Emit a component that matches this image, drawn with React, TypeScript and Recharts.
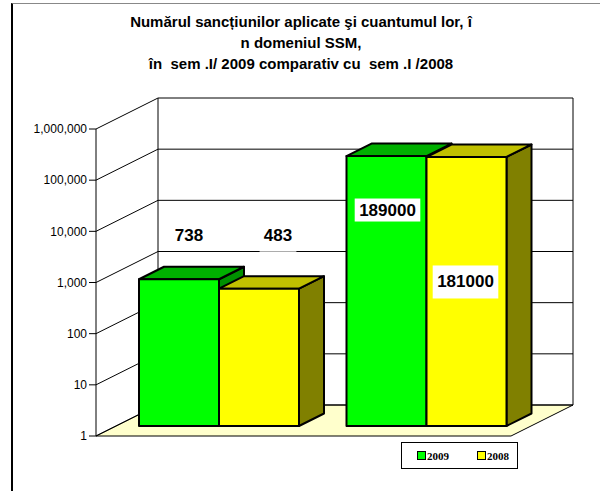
import React from 'react';
import { BarChart, Bar, XAxis, YAxis, CartesianGrid, ReferenceArea, LabelList } from 'recharts';

// Date
const categories = ['Număr sancțiuni', 'Cuantum'];
const values2009 = [738, 189000];
const values2008 = [483, 181000];
const yTicks = [1, 10, 100, 1000, 10000, 100000, 1000000];
const seriesNames = ['2009', '2008'];

const titleLines = [
  'Numărul sancțiunilor aplicate şi cuantumul lor, î',
  'n domeniul SSM,',
  'în  sem .I/ 2009 comparativ cu  sem .I /2008',
];

const data = categories.map((name, i) => ({ name, v2009: values2009[i], v2008: values2008[i] }));

// perspectiva 3D
const WALL = { dx: 62, dy: -31 };
const SHIFT = { dx: 19, dy: -10 };
const DEPTH = { dx: 25, dy: -12.5 };

const colors = {
  v2009: { front: '#00FF00', top: '#00B000', side: '#009000' },
  v2008: { front: '#FFFF00', top: '#C0C000', side: '#808000' },
};

// pozitia etichetelor fata de fata barei (centru, sus)
const labelPos: Record<string, { dx: number; dy: number; h: number }[]> = {
  v2009: [{ dx: 10, dy: -44, h: 22 }, { dx: 1, dy: 54, h: 23 }],
  v2008: [{ dx: 19, dy: -53, h: 32 }, { dx: -1, dy: 125, h: 33 }],
};

const Box3D = (props: any) => {
  const { x, y, width, height, c } = props;
  if (x == null || y == null) return null;
  const fx = x + SHIFT.dx;
  const fy = y + SHIFT.dy;
  const w = width;
  const h = height;
  return (
    <g stroke="#000" strokeWidth={2} strokeLinejoin="round">
      <polygon
        points={`${fx + w},${fy} ${fx + w + DEPTH.dx},${fy + DEPTH.dy} ${fx + w + DEPTH.dx},${fy + h + DEPTH.dy} ${fx + w},${fy + h}`}
        fill={c.side}
      />
      <polygon
        points={`${fx},${fy} ${fx + DEPTH.dx},${fy + DEPTH.dy} ${fx + w + DEPTH.dx},${fy + DEPTH.dy} ${fx + w},${fy}`}
        fill={c.top}
      />
      <rect x={fx} y={fy} width={w} height={h} fill={c.front} />
    </g>
  );
};

const makeLabel = (key: string) => (props: any) => {
  const vb = props.viewBox || {};
  const x = props.x ?? vb.x;
  const y = props.y ?? vb.y;
  const width = props.width ?? vb.width;
  const pos = labelPos[key][props.index];
  if (x == null || !pos) return null;
  const cx = x + SHIFT.dx + width / 2 + pos.dx;
  const cy = y + SHIFT.dy + pos.dy;
  const text = String(props.value);
  const tw = text.length * 9.6 + 8;
  return (
    <g>
      <rect x={cx - tw / 2} y={cy - pos.h / 2} width={tw} height={pos.h} fill="#fff" />
      <text
        x={cx}
        y={cy}
        textAnchor="middle"
        dominantBaseline="central"
        fontFamily="'Liberation Sans', Arial, sans-serif"
        fontWeight="bold"
        fontSize={17}
        fill="#000"
      >
        {text}
      </text>
    </g>
  );
};

// pereti si podea
const Walls = (props: any) => {
  const { x, y, width, height } = props;
  if (x == null) return null;
  const b = y + height;
  const r = x + width;
  return (
    <g>
      <polygon
        points={`${x},${b} ${x + WALL.dx},${b + WALL.dy} ${r + WALL.dx},${b + WALL.dy} ${r},${b}`}
        fill="#FFFFCC"
        stroke="#000"
        strokeWidth={1}
      />
      <line x1={x + WALL.dx} y1={y + WALL.dy} x2={x + WALL.dx} y2={b + WALL.dy} stroke="#000" strokeWidth={1} />
      <line x1={r + WALL.dx} y1={y + WALL.dy} x2={r + WALL.dx} y2={b + WALL.dy} stroke="#000" strokeWidth={1} />
    </g>
  );
};

const GridLine = (props: any) => {
  const { x1, y1, x2 } = props;
  return (
    <g key={props.key ?? `g-${y1}`}>
      <line x1={x1} y1={y1} x2={x1 + WALL.dx} y2={y1 + WALL.dy} stroke="#000" strokeWidth={1} />
      <line x1={x1 + WALL.dx} y1={y1 + WALL.dy} x2={x2 + WALL.dx} y2={y1 + WALL.dy} stroke="#000" strokeWidth={1} />
    </g>
  );
};

const App = () => {
  return (
    <div style={{ position: 'absolute', left: 0, top: 0, width: 600, height: 491, background: '#fff' }}>
      {/* rama */}
      <div
        style={{
          position: 'absolute',
          left: 11,
          top: 3,
          width: 589,
          height: 488,
          borderTop: '1px solid #888',
          borderLeft: '2px solid #000',
          boxSizing: 'border-box',
        }}
      />
      {/* titlu */}
      <div
        style={{
          position: 'absolute',
          left: 0,
          top: 11,
          width: 602,
          textAlign: 'center',
          fontFamily: "'Liberation Sans', Arial, sans-serif",
          fontWeight: 'bold',
          fontSize: 15,
          lineHeight: '21px',
          color: '#000',
        }}
      >
        {titleLines.map((t) => (
          <div key={t} style={{ whiteSpace: 'pre' }}>{t}</div>
        ))}
      </div>

      <div style={{ position: 'absolute', left: 0, top: 0 }}>
        <BarChart
          width={600}
          height={491}
          data={data}
          margin={{ top: 129, right: 89, bottom: 55, left: 8 }}
          barGap={0}
          barSize={80}
        >
          <ReferenceArea y1={1} y2={1000000} shape={<Walls />} ifOverflow="visible" zIndex={-200} />
          <CartesianGrid vertical={false} horizontal={(p: any) => <GridLine {...p} />} />
          <XAxis dataKey="name" hide />
          <YAxis
            scale="log"
            domain={[1, 1000000]}
            ticks={yTicks}
            width={88}
            axisLine={{ stroke: '#000', strokeWidth: 1 }}
            tickLine={{ stroke: '#000', strokeWidth: 1 }}
            tickSize={7}
            tickMargin={2}
            tick={{ fill: '#000', fontSize: 12, fontFamily: "'Liberation Sans', Arial, sans-serif" }}
            tickFormatter={(v: number) => v.toLocaleString('en-US')}
            interval={0}
            allowDataOverflow
          />
          <Bar
            dataKey="v2009"
            name={seriesNames[0]}
            isAnimationActive={false}
            shape={(p: any) => <Box3D {...p} c={colors.v2009} />}
          >
            <LabelList dataKey="v2009" content={makeLabel('v2009')} />
          </Bar>
          <Bar
            dataKey="v2008"
            name={seriesNames[1]}
            isAnimationActive={false}
            shape={(p: any) => <Box3D {...p} c={colors.v2008} />}
          >
            <LabelList dataKey="v2008" content={makeLabel('v2008')} />
          </Bar>
        </BarChart>
      </div>

      {/* legenda */}
      <div
        style={{
          position: 'absolute',
          left: 401,
          top: 442,
          width: 117,
          height: 27,
          border: '1px solid #000',
          boxSizing: 'border-box',
          background: '#fff',
          display: 'flex',
          alignItems: 'center',
          fontFamily: "'Liberation Serif', 'Times New Roman', serif",
          fontWeight: 'bold',
          fontSize: 11,
        }}
      >
        {seriesNames.map((s, i) => (
          <div key={s} style={{ display: 'flex', alignItems: 'center', marginLeft: i === 0 ? 15 : 28 }}>
            <span
              style={{
                display: 'inline-block',
                width: 7,
                height: 7,
                background: i === 0 ? colors.v2009.front : colors.v2008.front,
                border: '1.5px solid #000',
                marginRight: 1,
              }}
            />
            <span>{s}</span>
          </div>
        ))}
      </div>
    </div>
  );
};

export default App;
